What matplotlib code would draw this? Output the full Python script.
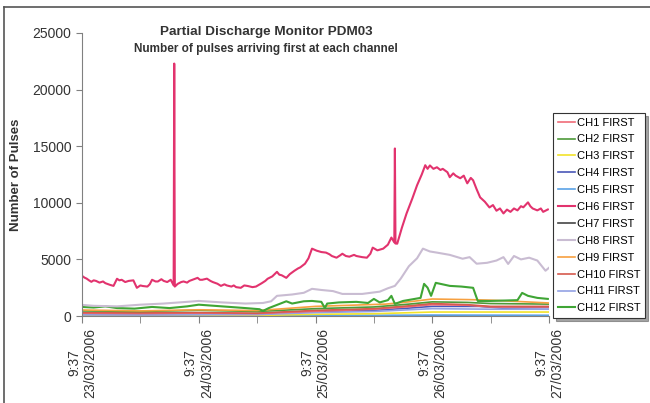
import numpy as np
import matplotlib
matplotlib.use("Agg")
import matplotlib.pyplot as plt
from matplotlib.lines import Line2D

plt.rcParams['font.family'] = ['Liberation Sans', 'DejaVu Sans']

# time in days since 23/03/2006 9:37
tick_labels = ["9:37\n23/03/2006", "9:37\n24/03/2006", "9:37\n25/03/2006",
               "9:37\n26/03/2006", "9:37\n27/03/2006"]
channels = ["CH%d FIRST" % i for i in range(1, 13)]
colors = ["#F06C78", "#4E9A3A", "#F2E32A", "#4A58B8", "#5AA2E6", "#E2336E",
          "#454545", "#C9BCD2", "#F7A040", "#D65A4E", "#93A2E4", "#3FA535"]

# CH6 - the big one
t6 = [0.00, 0.02, 0.04, 0.06, 0.08, 0.10, 0.12, 0.15, 0.18, 0.20, 0.24, 0.27,
      0.30, 0.32, 0.34, 0.37, 0.40, 0.44, 0.47, 0.50, 0.52, 0.56, 0.58, 0.60,
      0.63, 0.65, 0.68, 0.70, 0.73, 0.76, 0.785, 0.79, 0.795, 0.82, 0.85, 0.87,
      0.90, 0.92, 0.96, 0.99, 1.01, 1.03, 1.07, 1.10, 1.12, 1.16, 1.19, 1.22,
      1.24, 1.28, 1.30, 1.32, 1.36, 1.39, 1.42, 1.46, 1.49, 1.54, 1.57, 1.59,
      1.63, 1.67, 1.69, 1.71, 1.75, 1.78, 1.82, 1.85, 1.87, 1.91, 1.94, 1.97,
      2.01, 2.05, 2.09, 2.12, 2.14, 2.18, 2.21, 2.23, 2.26, 2.29, 2.33, 2.35,
      2.40, 2.44, 2.47, 2.49, 2.53, 2.58, 2.62, 2.65, 2.675, 2.68, 2.685, 2.70,
      2.74, 2.78, 2.80, 2.83, 2.87, 2.91, 2.94, 2.96, 2.98, 3.01, 3.04, 3.07,
      3.09, 3.13, 3.15, 3.18, 3.20, 3.24, 3.27, 3.30, 3.33, 3.35, 3.38, 3.41,
      3.45, 3.49, 3.52, 3.55, 3.58, 3.61, 3.64, 3.67, 3.70, 3.73, 3.76, 3.78,
      3.82, 3.84, 3.86, 3.90, 3.93, 3.95, 3.99]
v6 = [3550, 3400, 3300, 3150, 3020, 3150, 3100, 2950, 3050, 2900, 2750, 2660,
      3290, 3150, 3200, 3000, 3100, 3150, 2490, 2700, 2650, 2600, 2800, 3200,
      3050, 3050, 3250, 3100, 3000, 3200, 2700, 22300, 2600, 2840, 3000, 3050,
      2950, 3100, 3250, 3370, 3200, 3200, 3300, 3100, 3000, 2850, 2660, 2800,
      2700, 2600, 2700, 2550, 2490, 2700, 2650, 2550, 2600, 2900, 3100, 3290,
      3500, 3900, 3650, 3600, 3370, 3700, 4000, 4200, 4300, 4620, 5100, 5950,
      5770, 5650, 5600, 5450, 5300, 5150, 5350, 5500, 5300, 5240, 5400, 5300,
      5200, 5150, 5500, 6040, 5800, 5950, 6300, 6930, 6500, 14800, 6400, 6390,
      7800, 9060, 9600, 10400, 11550, 12500, 13320, 13000, 13300, 13000, 13140, 12900,
      13000, 12700, 12260, 12600, 12400, 12170, 12400, 11720, 12200, 11990, 11200, 10480,
      10100, 9590, 9800, 9300, 9500, 9060, 9400, 9200, 9500, 9330, 9700, 9600,
      10040, 9700, 9500, 9330, 9500, 9200, 9410]

# CH8 - lavender
t8 = [0.00, 0.10, 0.30, 0.50, 0.70, 0.90, 1.00, 1.20, 1.40, 1.55, 1.62, 1.67,
      1.80, 1.90, 1.97, 2.05, 2.15, 2.23, 2.40, 2.55, 2.62, 2.68, 2.73, 2.80,
      2.87, 2.92, 2.98, 3.04, 3.15, 3.26, 3.32, 3.38, 3.47, 3.55, 3.61, 3.65,
      3.70, 3.76, 3.83, 3.90, 3.97, 4.00]
v8 = [980, 900, 850, 1000, 1100, 1250, 1330, 1200, 1100, 1150, 1300, 1780,
      1900, 2050, 2400, 2300, 2200, 1950, 1950, 2150, 2450, 2660, 3300, 4400,
      5100, 5950, 5700, 5600, 5400, 5060, 5200, 4620, 4700, 4900, 5200, 4600,
      5300, 5000, 5150, 4900, 4000, 4260]

# CH12 - green, the visible one
t12 = [0.00, 0.10, 0.20, 0.30, 0.45, 0.60, 0.75, 0.90, 1.00, 1.20, 1.40, 1.52,
       1.55, 1.60, 1.70, 1.75, 1.80, 1.90, 1.97, 2.05, 2.08, 2.10, 2.20, 2.35,
       2.45, 2.50, 2.55, 2.62, 2.65, 2.68, 2.75, 2.90, 2.93, 2.96, 2.99, 3.03,
       3.15, 3.25, 3.35, 3.37, 3.39, 3.50, 3.73, 3.77, 3.82, 3.90, 3.99]
v12 = [800, 750, 850, 700, 650, 800, 700, 850, 1000, 850, 700, 600,
       450, 700, 1100, 1300, 1100, 1300, 1330, 1250, 700, 1100, 1200, 1250,
       1150, 1510, 1200, 1400, 1780, 1070, 1330, 1600, 2840, 2500, 1780, 2930,
       2660, 2600, 2490, 1900, 1330, 1330, 1400, 2040, 1780, 1600, 1510]

# CH9 - orange
t9 = [0.0, 0.5, 1.0, 1.5, 1.8, 2.0, 2.3, 2.6, 2.8, 3.0, 3.3, 3.5, 3.7, 4.0]
v9 = [530, 450, 550, 480, 700, 850, 950, 1050, 1250, 1500, 1450, 1400, 1300, 1150]

# CH10 - red
t10 = [0.0, 0.5, 1.0, 1.5, 2.0, 2.5, 2.8, 3.0, 3.3, 3.5, 4.0]
v10 = [300, 280, 300, 250, 500, 650, 900, 1100, 1000, 850, 850]

# CH1 - salmon
t1 = [0.0, 0.5, 1.0, 1.5, 2.0, 2.5, 2.8, 3.0, 3.3, 3.5, 4.0]
v1 = [250, 220, 260, 220, 420, 600, 820, 1000, 950, 800, 800]

# CH2 - green, lower
t2 = [0.0, 0.5, 1.0, 1.5, 2.0, 2.5, 2.8, 3.0, 3.3, 3.5, 4.0]
v2 = [450, 400, 500, 400, 650, 800, 1050, 1250, 1200, 1100, 1050]

# CH4 - blue
t4 = [0.0, 0.5, 1.0, 1.5, 2.0, 2.5, 2.8, 3.0, 3.4, 3.6, 4.0]
v4 = [150, 130, 150, 200, 400, 500, 700, 850, 850, 700, 750]

# CH11 - periwinkle
t11 = [0.0, 0.5, 1.0, 1.5, 2.0, 2.5, 3.0, 3.5, 4.0]
v11 = [100, 90, 110, 120, 300, 400, 650, 600, 600]

# CH3 - yellow
t3 = [0.0, 0.5, 1.0, 1.5, 2.0, 2.5, 3.0, 3.5, 4.0]
v3 = [50, 40, 50, 50, 150, 200, 350, 350, 350]

# CH5 - light blue
t5 = [0.0, 1.0, 2.0, 2.5, 3.0, 3.5, 4.0]
v5 = [20, 20, 40, 60, 80, 70, 60]

# CH7 - dark
t7 = [0.0, 1.0, 2.0, 3.0, 4.0]
v7 = [10, 10, 15, 20, 20]

series = [(t1, v1), (t2, v2), (t3, v3), (t4, v4), (t5, v5), (t6, v6),
          (t7, v7), (t8, v8), (t9, v9), (t10, v10), (t11, v11), (t12, v12)]
# draw order: small ones first, CH6 on top
order = [6, 4, 2, 3, 10, 0, 9, 1, 8, 11, 7, 5]

fig = plt.figure(figsize=(6.5, 4.03), dpi=100)
ax = fig.add_axes([82/650, 1-316/403, (549-82)/650, (316-33)/403])

handles = [None]*12
for i in order:
    t, v = series[i]
    ln, = ax.plot(t, v, color=colors[i], lw=1.5 if i in (5, 7, 11) else 1.2,
                  label=channels[i])
    handles[i] = ln

ax.set_xlim(0, 4)
ax.set_ylim(0, 25000)
ax.set_xticks([0, 1, 2, 3, 4])
ax.set_xticks([0.5, 1.5, 2.5, 3.5], minor=True)
ax.set_xticklabels(tick_labels, rotation=90, fontsize=10, color='#333333')
ax.set_yticks(np.arange(0, 25001, 5000))
ax.tick_params(axis='y', labelsize=10, labelcolor='#333333', length=4,
               color='#808080', direction='out')
ax.tick_params(axis='x', which='both', length=5, color='#808080', direction='out')
for s in ['top', 'right']:
    ax.spines[s].set_visible(False)
for s in ['left', 'bottom']:
    ax.spines[s].set_color('#808080')
ax.set_ylabel("Number of Pulses", fontsize=9.5, fontweight='bold', labelpad=8,
              color='#333333')

fig.text(266/650, 1-32/403, "Partial Discharge Monitor PDM03", ha='center',
         va='center', fontsize=9.7, fontweight='bold', color='#333333')
fig.text(266/650, 1-49/403, "Number of pulses arriving first at each channel",
         ha='center', va='center', fontsize=8.5, fontweight='bold', color='#333333')

leg = ax.legend(handles=handles, loc='upper left', bbox_to_anchor=(1.009, 0.717),
                fontsize=8, frameon=True, fancybox=False, shadow=True,
                handlelength=1.6, handletextpad=0.15, labelspacing=0.62,
                borderpad=0.4, borderaxespad=0)
leg.get_frame().set_edgecolor('#333333')
leg.get_frame().set_linewidth(0.8)

# outer frame of the chart area
fig.add_artist(Line2D([4/650, 4/650], [0, 1-7/403], color='#555555', lw=1.2,
                      transform=fig.transFigure))
fig.add_artist(Line2D([4/650, 1], [1-7/403, 1-7/403], color='#555555', lw=1.2,
                      transform=fig.transFigure))

fig.savefig("out.png", dpi=100)
